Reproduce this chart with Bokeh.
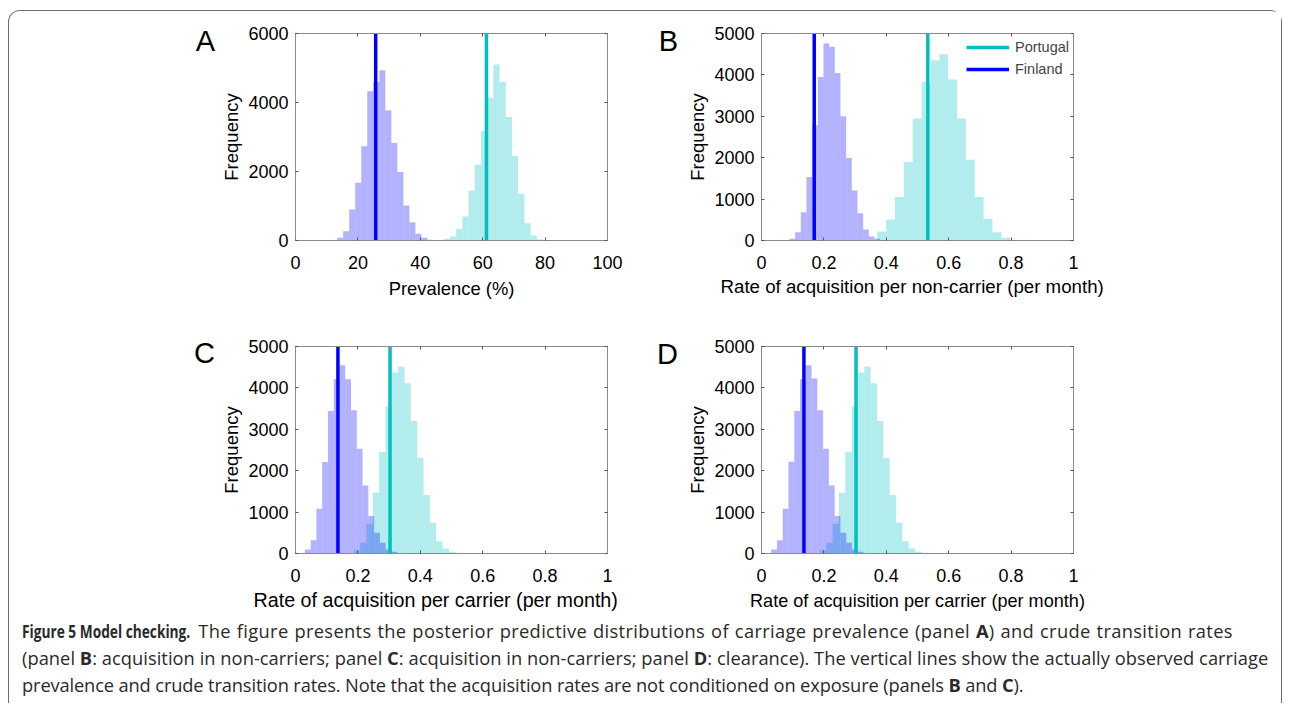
from bokeh.plotting import figure
from bokeh.models import (Range1d, LinearAxis, FixedTicker, PrintfTickFormatter,
                          Legend, LegendItem, Div, Title)
from bokeh.layouts import row, column
from bokeh.embed import file_html
from bokeh.resources import INLINE

# ---------------- data ----------------
series_names = ["Portugal", "Finland"]
panel_letters = ["A", "B", "C", "D"]

A_x_ticks = [0, 20, 40, 60, 80, 100]
A_y_ticks = [0, 2000, 4000, 6000]
rate_x_ticks = [0, 0.2, 0.4, 0.6, 0.8, 1]
rate_y_ticks = [0, 1000, 2000, 3000, 4000, 5000]

# Panel A: prevalence (%)
A_fin_start, A_fin_width = 13.35, 1.93
A_fin_counts = [77, 271, 900, 1674, 2729, 4326, 4597, 4935, 3774, 2826, 1984, 1016, 532, 194, 77, 19]
A_por_start, A_por_width = 45.5, 1.99
A_por_counts = [15, 48, 116, 339, 697, 1452, 2197, 3165, 4132, 5100, 4597, 3581, 2448, 1355, 503, 145, 39]
A_fin_obs, A_por_obs = 25.7, 61.2

# Panel B: acquisition per non-carrier
B_fin_start, B_fin_width = 0.0897, 0.01816
B_fin_counts = [40, 200, 685, 1532, 2782, 3952, 4758, 4677, 4048, 3000, 1992, 1210, 661, 266, 97, 40]
B_por_start, B_por_width = 0.371, 0.0284
B_por_counts = [218, 508, 1048, 1895, 2944, 3831, 4355, 4500, 3887, 2944, 1952, 1048, 524, 202, 65]
B_fin_obs, B_por_obs = 0.169, 0.533

# Panel C: acquisition per carrier
C_fin_start, C_fin_width = 0.030, 0.0185
C_fin_counts = [97, 323, 1081, 2210, 3444, 4210, 4549, 4210, 3460, 2532, 1645, 903, 500, 258, 97, 40]
C_por_start, C_por_width = 0.187, 0.0203
C_por_counts = [80, 258, 718, 1468, 2452, 3549, 4371, 4516, 4113, 3202, 2315, 1411, 742, 298, 121, 40, 16]
C_fin_obs, C_por_obs = 0.136, 0.303

# Panel D
D_fin_start, D_fin_width = 0.031, 0.0185
D_fin_counts = [97, 323, 1081, 2218, 3444, 4210, 4549, 4226, 3460, 2532, 1645, 903, 500, 258, 97, 40]
D_por_start, D_por_width = 0.1875, 0.0203
D_por_counts = [80, 258, 718, 1468, 2452, 3549, 4371, 4516, 4113, 3202, 2315, 1411, 742, 298, 121, 40, 16]
D_fin_obs, D_por_obs = 0.136, 0.303

labels_x = ["Prevalence (%)",
            "Rate of acquisition per non-carrier (per month)",
            "Rate of acquisition per carrier (per month)",
            "Rate of acquisition per carrier (per month)"]
label_y = "Frequency"

caption_title = "Figure 5 Model checking."
caption_lines = [
    " The figure presents the posterior predictive distributions of carriage prevalence "
    "(panel <b>A</b>) and crude transition rates",
    "(panel <b>B</b>: acquisition in non-carriers; panel <b>C</b>: acquisition in non-carriers; "
    "panel <b>D</b>: clearance). The vertical lines show the actually observed carriage",
    "prevalence and crude transition rates. Note that the acquisition rates are not conditioned "
    "on exposure (panels <b>B</b> and <b>C</b>).",
]

# ---------------- styling ----------------
POR = "#00bfbf"
FIN = "#0000ff"
AXC = "#8a8a8a"
FONT = "Liberation Sans"
FS = "18px"


def style_axis(ax, ticks, show_labels=True, standoff=7, label_standoff=3, label_size=FS):
    ax.ticker = FixedTicker(ticks=ticks)
    ax.formatter = PrintfTickFormatter(format="%g")
    ax.axis_line_color = AXC
    ax.major_tick_line_color = "#555555"
    ax.major_tick_in = 3
    ax.major_tick_out = 0
    ax.minor_tick_line_color = None
    ax.major_label_text_font = FONT
    if show_labels:
        ax.major_label_text_color = "black"
        ax.major_label_text_font_size = FS
        ax.major_label_standoff = standoff
    else:
        ax.major_label_text_color = None
        ax.major_label_text_font_size = "1px"
        ax.major_label_standoff = 0
    ax.axis_label_text_font = FONT
    ax.axis_label_text_font_size = label_size
    ax.axis_label_text_font_style = "normal"
    ax.axis_label_text_color = "black"
    ax.axis_label_standoff = label_standoff


def panel(xlabel, xlabel_size, xlabel_offset, xmax, ymax, xticks, yticks,
          fin_start, fin_w, fin_counts, por_start, por_w, por_counts,
          fin_obs, por_obs, width, height, bl, br, bt, bb, legend=False):
    p = figure(width=width, height=height, x_range=Range1d(0, xmax), y_range=Range1d(0, ymax),
               output_backend="svg", toolbar_location=None,
               min_border_left=bl, min_border_right=br, min_border_top=bt, min_border_bottom=bb)
    p.grid.visible = False
    p.outline_line_color = AXC
    p.background_fill_color = "white"
    p.border_fill_color = "white"

    por_edges = [por_start + i * por_w for i in range(len(por_counts) + 1)]
    fin_edges = [fin_start + i * fin_w for i in range(len(fin_counts) + 1)]
    p.quad(left=por_edges[:-1], right=por_edges[1:], bottom=0, top=por_counts,
           fill_color=POR, fill_alpha=0.3, line_color=None)
    p.quad(left=fin_edges[:-1], right=fin_edges[1:], bottom=0, top=fin_counts,
           fill_color=FIN, fill_alpha=0.3, line_color=None)
    r_por = p.segment(x0=[por_obs], y0=[0], x1=[por_obs], y1=[ymax], line_color=POR, line_width=3.5)
    r_fin = p.segment(x0=[fin_obs], y0=[0], x1=[fin_obs], y1=[ymax], line_color=FIN, line_width=3.5)

    style_axis(p.xaxis[0], xticks, standoff=15, label_standoff=6, label_size=xlabel_size)
    style_axis(p.yaxis[0], yticks, standoff=7, label_standoff=3, label_size="18.5px")
    p.yaxis[0].axis_label = label_y
    if xlabel_offset is None:
        p.xaxis[0].axis_label = xlabel
    else:
        # axis title set off-centre (left-anchored), as in the reference
        p.add_layout(Title(text=xlabel, align="left", offset=xlabel_offset,
                           text_font=FONT, text_font_size=xlabel_size,
                           text_font_style="normal", text_color="black",
                           standoff=4), "below")

    top = LinearAxis()
    style_axis(top, xticks, show_labels=False)
    p.add_layout(top, "above")
    right = LinearAxis()
    style_axis(right, yticks, show_labels=False)
    p.add_layout(right, "right")

    if legend:
        lg = Legend(items=[LegendItem(label=series_names[0], renderers=[r_por]),
                           LegendItem(label=series_names[1], renderers=[r_fin])],
                    location="top_right")
        lg.border_line_color = None
        lg.background_fill_alpha = 0
        lg.label_text_font = FONT
        lg.label_text_font_size = "14.5px"
        lg.glyph_width = 43
        lg.glyph_height = 20
        lg.label_height = 20
        lg.spacing = 2
        lg.padding = 0
        lg.margin = 4
        lg.label_standoff = 6
        p.add_layout(lg)
    return p


def letter_div(text, width, height, pad_top):
    return Div(text=text, width=width, height=height, margin=(0, 0, 0, 0),
               styles={"font-family": FONT, "font-size": "29px", "line-height": "30px",
                       "text-align": "right", "padding-top": f"{pad_top}px",
                       "box-sizing": "border-box", "color": "black"})


H1, H2 = 309, 296
pA = panel(labels_x[0], "18.4px", None, 100, 6000, A_x_ticks, A_y_ticks,
           A_fin_start, A_fin_width, A_fin_counts, A_por_start, A_por_width, A_por_counts,
           A_fin_obs, A_por_obs, 425, H1, 80, 33, 22, 80)
pB = panel(labels_x[1], "18.7px", -41, 1, 5000, rate_x_ticks, rate_y_ticks,
           B_fin_start, B_fin_width, B_fin_counts, B_por_start, B_por_width, B_por_counts,
           B_fin_obs, B_por_obs, 603, H1, 83, 208, 22, 80, legend=True)
pC = panel(labels_x[2], "19.7px", -42, 1, 5000, rate_x_ticks, rate_y_ticks,
           C_fin_start, C_fin_width, C_fin_counts, C_por_start, C_por_width, C_por_counts,
           C_fin_obs, C_por_obs, 425, H2, 80, 33, 26, 63)
pD = panel(labels_x[3], "18.1px", None, 1, 5000, rate_x_ticks, rate_y_ticks,
           D_fin_start, D_fin_width, D_fin_counts, D_por_start, D_por_width, D_por_counts,
           D_fin_obs, D_por_obs, 603, H2, 83, 208, 26, 63)

row1 = row(letter_div(panel_letters[0], 206, H1, 15), pA,
           letter_div(panel_letters[1], 38, H1, 15), pB, spacing=0)
row2 = row(letter_div(panel_letters[2], 206, H2, 18), pC,
           letter_div(panel_letters[3], 38, H2, 19), pD, spacing=0)

caption_html = (
    '<span style="display:inline-block;transform:scaleX(0.75);transform-origin:0 50%;'
    f'margin-right:-54px;font-weight:bold">{caption_title}</span>'
    f'<span style="letter-spacing:0.35px;word-spacing:0.8px">{caption_lines[0]}</span><br>'
    f'<span style="letter-spacing:0.04px">{caption_lines[1]}</span><br>'
    f'<span style="letter-spacing:-0.14px">{caption_lines[2]}</span>'
)
caption = Div(text=caption_html, width=1272, height=87, margin=(0, 0, 0, 0),
              styles={"font-family": "Open Sans", "font-size": "18.3px", "line-height": "27px",
                      "color": "#2a2a2a", "padding-left": "13px", "padding-top": "0.5px",
                      "white-space": "nowrap", "box-sizing": "border-box"})

layout = column(row1, row2, caption, spacing=0,
                styles={"border": "1px solid #6e6e6e", "border-bottom": "none",
                        "border-radius": "12px 12px 0 0", "background": "white",
                        "margin-left": "8px", "margin-top": "10px"})

open("out.html", "w").write(file_html(layout, INLINE))
